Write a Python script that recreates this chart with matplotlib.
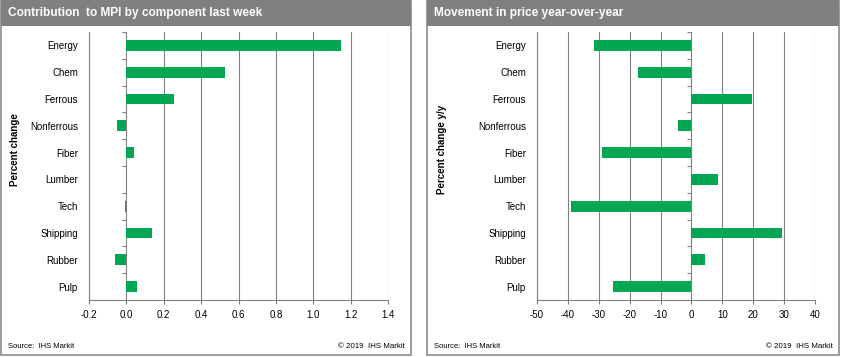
import matplotlib

matplotlib.use("Agg")
import matplotlib.pyplot as plt
from matplotlib.patches import Rectangle
from matplotlib.markers import TICKLEFT

plt.rcParams["font.family"] = ["Liberation Sans", "DejaVu Sans"]

categories = ["Energy", "Chem", "Ferrous", "Nonferrous", "Fiber",
              "Lumber", "Tech", "Shipping", "Rubber", "Pulp"]
contribution = [1.146, 0.530, 0.254, -0.052, 0.039, 0.0, -0.005, 0.139, -0.0625, 0.059]
yoy_change = [-31.7, -17.2, 19.7, -4.2, -28.8, 8.5, -39.0, 29.4, 4.4, -25.4]

left_ticks = [-0.2, 0.0, 0.2, 0.4, 0.6, 0.8, 1.0, 1.2, 1.4]
right_ticks = [-50, -40, -30, -20, -10, 0, 10, 20, 30, 40]

GREEN = "#00a651"
GREY = "#808080"
W, H = 843, 357

fig = plt.figure(figsize=(W / 100, H / 100), dpi=100)


def px_box(x0, y0, x1, y1):
    # pixel box (top-left origin) -> figure fraction [l, b, w, h]
    return [x0 / W, 1 - y1 / H, (x1 - x0) / W, (y1 - y0) / H]


def panel(x0, x1, title, left_note, right_note):
    l, b, w, h = px_box(x0, 1, x1, 355)
    fig.patches.append(Rectangle((l, b), w, h, transform=fig.transFigure,
                                 fill=False, edgecolor="#8c8c8c", lw=1.2))
    l, b, w, h = px_box(x0, 0, x1, 26)
    fig.patches.append(Rectangle((l, b), w, h, transform=fig.transFigure,
                                 facecolor=GREY, edgecolor="none"))
    fig.text((x0 + 7) / W, 1 - 13 / H, title, color="white", fontsize=8.6,
             fontweight="bold", va="center", ha="left")
    fig.text((x0 + 7) / W, 1 - 346 / H, left_note, fontsize=5.5, va="center")
    fig.text((x1 - 6) / W, 1 - 346 / H, right_note, fontsize=5.7, va="center", ha="right")


def bars(ax, values, ticks, ylabel):
    y = list(range(len(categories)))
    ax.barh(y, values, height=0.4, color=GREEN, zorder=3)
    ax.set_ylim(len(categories) - 0.5, -0.5)
    ax.set_xlim(ticks[0], ticks[-1])
    ax.set_xticks(ticks)
    ax.set_xticklabels([f"{t:.1f}" if isinstance(t, float) else str(t) for t in ticks])
    ax.set_yticks(y)
    ax.set_yticklabels(categories)
    ax.tick_params(axis="y", length=0, pad=8, labelsize=7)
    ax.tick_params(axis="x", length=3, color=GREY, labelsize=7, pad=4)
    ax.grid(axis="x", color=GREY, lw=0.8, zorder=0)
    for s in ("top", "right"):
        ax.spines[s].set_visible(False)
    for s in ("left", "bottom"):
        ax.spines[s].set_color(GREY)
        ax.spines[s].set_linewidth(0.8)
    # category ticks along the zero line
    bounds = [i - 0.5 for i in range(len(categories) + 1)]
    ax.plot([0] * len(bounds), bounds, ls="none", marker=TICKLEFT,
            ms=3, mec=GREY, mew=0.8, zorder=4, clip_on=False)
    ax.set_ylabel(ylabel, fontsize=7, fontweight="bold")


panel(1, 411, "Contribution  to MPI by component last week",
      "Source:  IHS Markit", "© 2019  IHS Markit")
panel(427, 839, "Movement in price year-over-year",
      "Source:  IHS Markit", "© 2019  IHS Markit")

ax1 = fig.add_axes(px_box(89, 32, 388, 300))
bars(ax1, contribution, left_ticks, "Percent change")
ax1.yaxis.set_label_coords(-(89 - 20) / (388 - 89), 0.56)

ax2 = fig.add_axes(px_box(537, 32, 815, 300))
bars(ax2, yoy_change, right_ticks, "Percent change y/y")
ax2.yaxis.set_label_coords(-(537 - 447) / (815 - 537), 0.56)

fig.savefig("out.png", dpi=100)
